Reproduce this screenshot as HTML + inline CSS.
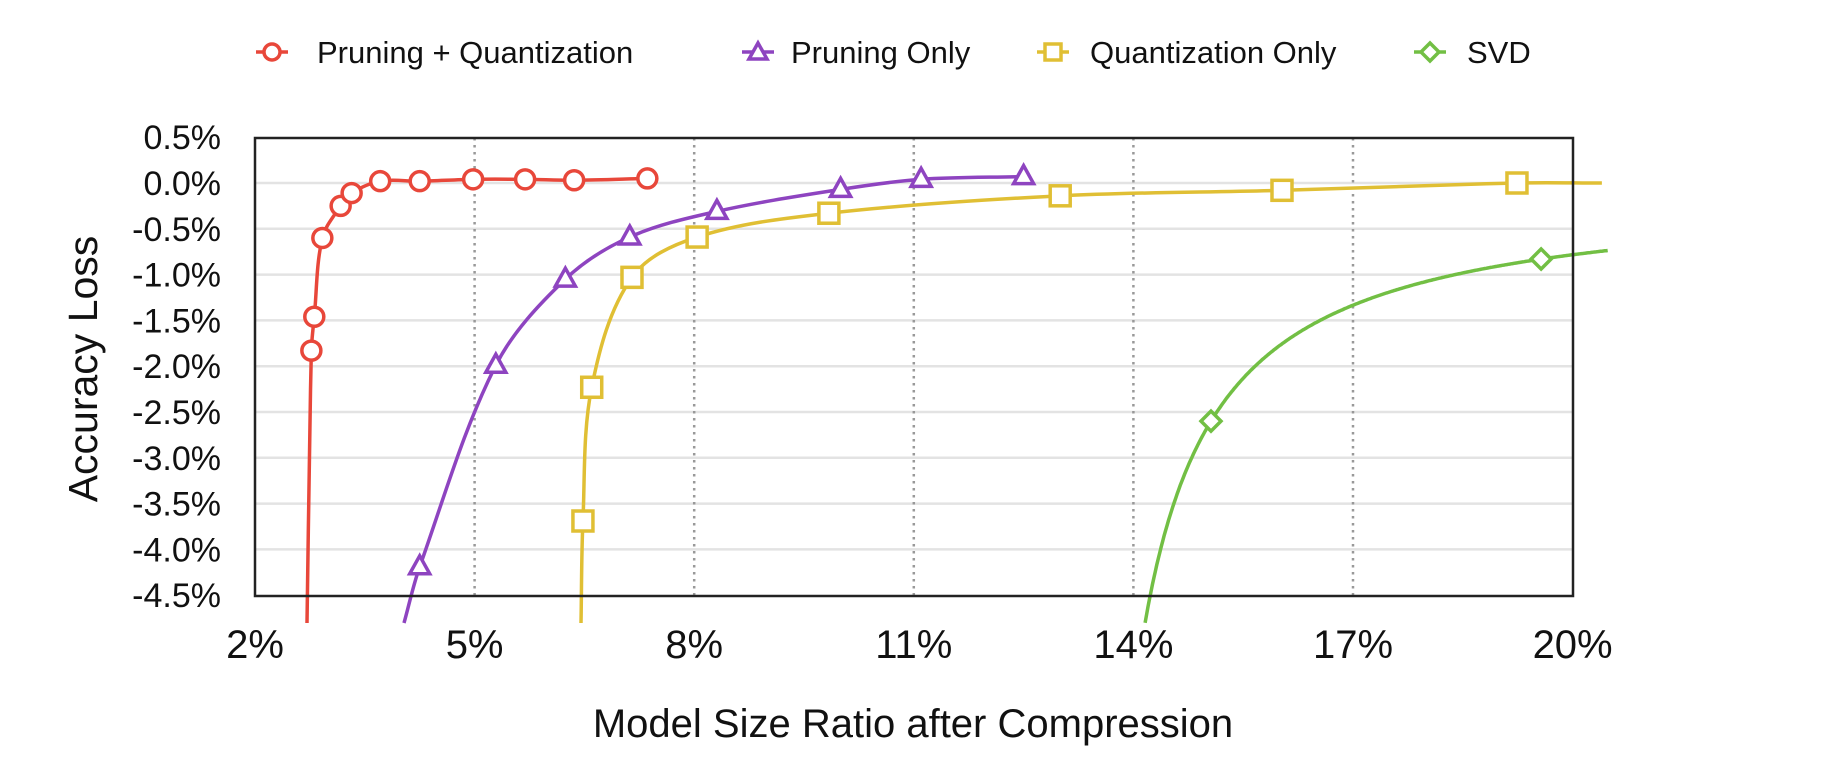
<!DOCTYPE html>
<html><head><meta charset="utf-8"><style>
html,body{margin:0;padding:0;background:#fff;}
svg{display:block;font-family:"Liberation Sans",Arial,sans-serif;}
</style></head><body>
<svg id="s" width="1822" height="770" viewBox="0 0 1822 770" xmlns="http://www.w3.org/2000/svg">
<g id="grid"></g>
<g id="series"></g>
<rect x="255" y="138" width="1318" height="458" fill="none" stroke="#222" stroke-width="2.5"/>
<g id="labels" font-size="34" fill="#111"></g>
<g id="legend" font-size="31" fill="#111">
 <line x1="256" y1="52" x2="288" y2="52" stroke="#e8473a" stroke-width="3.5"/>
 <circle cx="272" cy="52" r="8" fill="#fff" stroke="#e8473a" stroke-width="3.5"/>
 <text x="317" y="63">Pruning + Quantization</text>
 <line x1="742" y1="52" x2="774" y2="52" stroke="#8e44c0" stroke-width="3.5"/>
 <polygon points="758,43 767,59 749,59" fill="#fff" stroke="#8e44c0" stroke-width="3.5"/>
 <text x="791" y="63">Pruning Only</text>
 <line x1="1037" y1="52" x2="1069" y2="52" stroke="#e0bf34" stroke-width="3.5"/>
 <rect x="1045" y="44" width="16" height="16" fill="#fff" stroke="#e0bf34" stroke-width="3.5"/>
 <text x="1090" y="63">Quantization Only</text>
 <line x1="1414" y1="52" x2="1446" y2="52" stroke="#72bf44" stroke-width="3.5"/>
 <polygon points="1430,43 1439,52 1430,61 1421,52" fill="#fff" stroke="#72bf44" stroke-width="3.5"/>
 <text x="1467" y="63">SVD</text>
</g>
<text x="913" y="737" font-size="40" text-anchor="middle" fill="#111">Model Size Ratio after Compression</text>
<text transform="translate(97,369) rotate(-90)" font-size="41" text-anchor="middle" fill="#111">Accuracy Loss</text>
</svg>
<script>
const NS="http://www.w3.org/2000/svg";
const X=v=>255+(v-2)*73.2, Y=v=>183-v*91.6;
function el(p,t,a,txt){const e=document.createElementNS(NS,t);for(const k in a)e.setAttribute(k,a[k]);if(txt!=null)e.textContent=txt;p.appendChild(e);return e;}
const grid=document.getElementById('grid'),lab=document.getElementById('labels'),ser=document.getElementById('series');
for(let i=0;i<=10;i++){const v=0.5-i*0.5,y=Y(v);
 if(i>0&&i<10)el(grid,'line',{x1:255,x2:1573,y1:y,y2:y,stroke:'#e3e3e3','stroke-width':2.5});
 el(lab,'text',{x:221,y:y+12,'text-anchor':'end'},v.toFixed(1)+'%');}
[2,5,8,11,14,17,20].forEach(v=>{const x=X(v);
 if(v>2&&v<20)el(grid,'line',{x1:x,x2:x,y1:138,y2:596,stroke:'#999','stroke-width':2.5,'stroke-dasharray':'2.5 4.5'});
 el(lab,'text',{x:x,y:658,'text-anchor':'middle','font-size':40},v+'%');});
function tang(pts,i){const a=pts[Math.max(0,i-1)],b=pts[Math.min(pts.length-1,i+1)];const dx=b[0]-a[0],dy=b[1]-a[1],l=Math.hypot(dx,dy)||1;return [dx/l,dy/l];}
function path(pts){let d='M'+pts[0][0]+','+pts[0][1];
 for(let i=0;i<pts.length-1;i++){const p1=pts[i],p2=pts[i+1];const L=Math.hypot(p2[0]-p1[0],p2[1]-p1[1])/3;
  const t1=tang(pts,i),t2=tang(pts,i+1);
  d+=' C'+(p1[0]+t1[0]*L)+','+(p1[1]+t1[1]*L)+' '+(p2[0]-t2[0]*L)+','+(p2[1]-t2[1]*L)+' '+p2[0]+','+p2[1];}
 return d;}
const S=[
 {c:'#e8473a',m:'o',start:[307,623],pts:[[2.77,-1.83],[2.81,-1.46],[2.92,-0.60],[3.17,-0.25],[3.32,-0.11],[3.71,0.02],[4.25,0.02],[4.98,0.04],[5.69,0.04],[6.36,0.03],[7.36,0.05]]},
 {c:'#8e44c0',m:'t',start:[404,623],pts:[[4.25,-4.19],[5.29,-1.99],[6.24,-1.05],[7.12,-0.59],[8.31,-0.31],[10.0,-0.07],[11.1,0.04],[12.5,0.07]]},
 {c:'#e0bf34',m:'s',start:[581,623],pts:[[6.48,-3.69],[6.60,-2.23],[7.15,-1.03],[8.04,-0.59],[9.84,-0.33],[13.0,-0.14],[16.03,-0.08],[19.24,0.0]],end:[20.4,0.0]}
];
S.forEach(s=>{let mk=s.pts.map(p=>[X(p[0]),Y(p[1])]);let all=[s.start].concat(mk);
 if(s.end)all.push([X(s.end[0]),Y(s.end[1])]);
 el(ser,'path',{d:path(all),fill:'none',stroke:s.c,'stroke-width':3.5});
 s.mk=mk;});
// SVD analytic curve
{let d='';for(let x=14.16;x<=20.48;x+=0.02){const y=-0.072-4.89/(x-13.126);d+=(d?' L':'M')+X(x).toFixed(1)+','+Y(y).toFixed(1);}
 el(ser,'path',{d:d,fill:'none',stroke:'#72bf44','stroke-width':3.5});
 S.push({c:'#72bf44',m:'d',mk:[[X(15.06),Y(-2.60)],[X(19.57),Y(-0.83)]]});}
S.forEach(s=>s.mk.forEach(([x,y])=>{const a={fill:'#fff',stroke:s.c,'stroke-width':3.5};
  if(s.m=='o')el(ser,'circle',Object.assign({cx:x,cy:y,r:9.5},a));
  else if(s.m=='t')el(ser,'polygon',Object.assign({points:`${x},${y-11} ${x+10},${y+7} ${x-10},${y+7}`},a));
  else if(s.m=='s')el(ser,'rect',Object.assign({x:x-10,y:y-10,width:20,height:20},a));
  else el(ser,'polygon',Object.assign({points:`${x},${y-10} ${x+10},${y} ${x},${y+10} ${x-10},${y}`},a));}));
</script>
</body></html>
